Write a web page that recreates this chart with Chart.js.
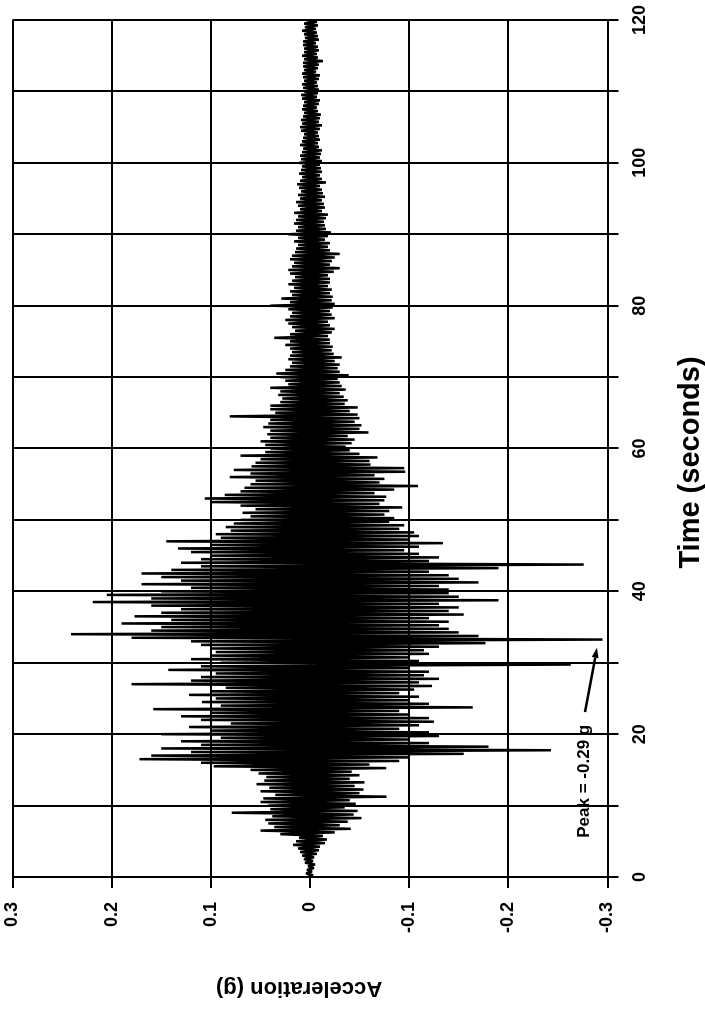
<!DOCTYPE html>
<html><head><meta charset="utf-8">
<script src="https://cdn.jsdelivr.net/npm/chart.js@4.4.1/dist/chart.umd.min.js"></script>
<style>
html,body{margin:0;padding:0;background:#fff;overflow:hidden;width:705px;height:1009px;}
#wrap{position:absolute;left:0;top:0;width:1009px;height:705px;transform-origin:0 0;transform:translate(0,1009px) rotate(-90deg);}
canvas{display:block;}
</style></head><body>
<div id="wrap"><canvas id="c" width="1009" height="705"></canvas></div>
<script>
// ---- data ----
const sampleStep = 0.25; // seconds between samples
const accelG = [
// 0-9 s
0.002,-0.003,0.004,-0.002,
0.003,-0.004,0.002,-0.005,
0.005,-0.003,0.006,-0.004,
0.008,-0.007,0.010,-0.009,
0.012,-0.010,0.017,-0.015,
0.014,-0.017,0.011,-0.013,
0.030,-0.025,0.050,-0.041,
0.036,-0.030,0.042,-0.038,
0.045,-0.052,0.038,-0.044,
0.079,-0.048,0.040,-0.035,
// 10-19 s
0.042,-0.046,0.050,-0.040,
0.047,-0.077,0.035,-0.050,
0.050,-0.054,0.041,-0.045,
0.054,-0.055,0.046,-0.040,
0.044,-0.050,0.052,-0.042,
0.060,-0.077,0.097,-0.060,
0.110,-0.090,0.172,-0.100,
0.160,-0.155,0.120,-0.243,
0.150,-0.180,0.110,-0.120,
0.130,-0.100,0.090,-0.130,
// 20-29 s
0.150,-0.120,0.100,-0.090,
0.122,-0.110,0.080,-0.125,
0.110,-0.120,0.130,-0.100,
0.100,-0.090,0.158,-0.164,
0.090,-0.120,0.109,-0.100,
0.095,-0.110,0.122,-0.090,
0.100,-0.105,0.085,-0.123,
0.180,-0.110,0.120,-0.130,
0.110,-0.115,0.095,-0.120,
0.143,-0.100,0.110,-0.263,
// 30-39 s
0.090,-0.110,0.120,-0.100,
0.100,-0.120,0.095,-0.115,
0.100,-0.130,0.110,-0.177,
0.120,-0.295,0.180,-0.170,
0.241,-0.150,0.160,-0.140,
0.150,-0.130,0.190,-0.140,
0.140,-0.120,0.177,-0.155,
0.150,-0.140,0.130,-0.150,
0.160,-0.130,0.219,-0.190,
0.160,-0.150,0.205,-0.140,
// 40-49 s
0.150,-0.140,0.120,-0.130,
0.170,-0.170,0.130,-0.150,
0.150,-0.140,0.170,-0.120,
0.140,-0.190,0.110,-0.276,
0.130,-0.120,0.110,-0.130,
0.100,-0.110,0.120,-0.095,
0.133,-0.110,0.100,-0.134,
0.145,-0.100,0.090,-0.110,
0.095,-0.105,0.080,-0.090,
0.085,-0.095,0.077,-0.080,
// 50-59 s
0.070,-0.085,0.060,-0.075,
0.068,-0.080,0.055,-0.093,
0.070,-0.070,0.100,-0.075,
0.106,-0.077,0.086,-0.065,
0.070,-0.085,0.066,-0.109,
0.060,-0.070,0.055,-0.075,
0.081,-0.065,0.060,-0.096,
0.077,-0.095,0.059,-0.061,
0.055,-0.060,0.050,-0.068,
0.070,-0.050,0.045,-0.040,
// 60-69 s
0.040,-0.036,0.045,-0.042,
0.050,-0.045,0.040,-0.038,
0.043,-0.059,0.040,-0.050,
0.047,-0.052,0.042,-0.045,
0.040,-0.050,0.081,-0.048,
0.035,-0.040,0.040,-0.048,
0.040,-0.035,0.030,-0.038,
0.028,-0.034,0.032,-0.030,
0.030,-0.036,0.040,-0.032,
0.022,-0.030,0.025,-0.028,
// 70-79 s
0.030,-0.039,0.034,-0.030,
0.025,-0.028,0.020,-0.030,
0.018,-0.025,0.022,-0.032,
0.020,-0.024,0.018,-0.022,
0.020,-0.023,0.025,-0.020,
0.020,-0.020,0.036,-0.018,
0.020,-0.022,0.015,-0.025,
0.018,-0.020,0.022,-0.018,
0.025,-0.025,0.020,-0.022,
0.018,-0.020,0.022,-0.023,
// 80-89 s
0.040,-0.025,0.020,-0.022,
0.029,-0.023,0.018,-0.020,
0.020,-0.022,0.016,-0.018,
0.022,-0.020,0.018,-0.020,
0.015,-0.018,0.020,-0.024,
0.022,-0.030,0.018,-0.020,
0.016,-0.022,0.020,-0.025,
0.018,-0.030,0.015,-0.020,
0.014,-0.018,0.012,-0.020,
0.016,-0.015,0.012,-0.018,
// 90-99 s
0.022,-0.021,0.014,-0.016,
0.012,-0.015,0.016,-0.014,
0.014,-0.016,0.012,-0.018,
0.016,-0.012,0.010,-0.015,
0.012,-0.014,0.014,-0.012,
0.010,-0.015,0.012,-0.013,
0.009,-0.012,0.011,-0.010,
0.013,-0.016,0.010,-0.012,
0.008,-0.010,0.011,-0.012,
0.009,-0.011,0.008,-0.010,
// 100-109 s
0.011,-0.012,0.009,-0.010,
0.010,-0.011,0.008,-0.012,
0.007,-0.009,0.010,-0.008,
0.008,-0.010,0.007,-0.009,
0.006,-0.008,0.009,-0.010,
0.010,-0.012,0.008,-0.009,
0.009,-0.010,0.007,-0.011,
0.006,-0.008,0.008,-0.007,
0.007,-0.009,0.006,-0.010,
0.008,-0.007,0.009,-0.008,
// 110-120 s
0.006,-0.009,0.007,-0.008,
0.008,-0.007,0.006,-0.009,
0.007,-0.010,0.008,-0.006,
0.006,-0.008,0.007,-0.009,
0.007,-0.013,0.006,-0.008,
0.008,-0.007,0.006,-0.009,
0.006,-0.008,0.007,-0.006,
0.007,-0.009,0.005,-0.008,
0.006,-0.007,0.008,-0.006,
0.005,-0.008,0.006,-0.007,
0.004
];
const timeTicks = [0,10,20,30,40,50,60,70,80,90,100,110,120];
const timeTickLabels = ['0','','20','','40','','60','','80','','100','','120'];
const accelTicks = [-0.3,-0.2,-0.1,0,0.1,0.2,0.3];
const accelTickLabels = ['-0.3','-0.2','-0.1','0','0.1','0.2','0.3'];
const timeTitle = 'Time (seconds)';
const accelTitle = 'Acceleration (g)';
const peakText = 'Peak = -0.29 g';
const peakTextAt = {t: 5.5, g: -0.2813};
const arrowFrom = {t: 23.1, g: -0.2773};
const arrowTo = {t: 32.1, g: -0.2894};

// ---- chart ----
const FAMILY = '"Liberation Sans", Arial, Helvetica, sans-serif';
const points = accelG.map((g, i) => ({x: i * sampleStep, y: g}));
const titleShift = {x: {dx: -14, dy: 0}, y: {dx: 0, dy: -11}};

const zeroPad = s => { s.paddingLeft = 0; s.paddingRight = 0; s.paddingTop = 0; s.paddingBottom = 0; };

const titleShiftPlugin = {
  id: 'titleShift',
  beforeDraw(chart) {
    for (const id of Object.keys(titleShift)) {
      const s = chart.scales[id];
      if (!s || s._titleShifted) continue;
      const orig = s.drawTitle;
      const d = titleShift[id];
      s.drawTitle = function () {
        this.ctx.save(); this.ctx.translate(d.dx, d.dy);
        orig.call(this);
        this.ctx.restore();
      };
      s._titleShifted = true;
    }
  }
};

const peakPlugin = {
  id: 'peakNote',
  afterDatasetsDraw(chart) {
    const {ctx, scales: {x, y}} = chart;
    ctx.save();
    ctx.fillStyle = '#000';
    ctx.strokeStyle = '#000';
    ctx.font = 'bold 17px ' + FAMILY;
    ctx.textAlign = 'left';
    ctx.textBaseline = 'alphabetic';
    ctx.fillText(peakText, x.getPixelForValue(peakTextAt.t), y.getPixelForValue(peakTextAt.g));
    const x1 = x.getPixelForValue(arrowFrom.t), y1 = y.getPixelForValue(arrowFrom.g);
    const x2 = x.getPixelForValue(arrowTo.t), y2 = y.getPixelForValue(arrowTo.g);
    const ang = Math.atan2(y2 - y1, x2 - x1);
    const hl = 10, hw = 3.5;
    const bx = x2 - hl * Math.cos(ang), by = y2 - hl * Math.sin(ang);
    ctx.lineWidth = 2.5;
    ctx.beginPath(); ctx.moveTo(x1, y1); ctx.lineTo(bx, by); ctx.stroke();
    ctx.beginPath();
    ctx.moveTo(x2, y2);
    ctx.lineTo(bx - hw * Math.sin(ang), by + hw * Math.cos(ang));
    ctx.lineTo(bx + hw * Math.sin(ang), by - hw * Math.cos(ang));
    ctx.closePath(); ctx.fill();
    ctx.restore();
  }
};

new Chart(document.getElementById('c'), {
  type: 'line',
  data: {datasets: [{data: points, borderColor: '#000', borderWidth: 2.5, borderJoinStyle: 'bevel',
    pointRadius: 0, tension: 0, fill: false}]},
  options: {
    responsive: false, animation: false, devicePixelRatio: 1,
    parsing: false, normalized: true,
    plugins: {legend: {display: false}, tooltip: {enabled: false}, decimation: {enabled: false}},
    layout: {autoPadding: false, padding: {left: 0, right: 20, top: 12.5, bottom: 0}},
    scales: {
      x: {
        type: 'linear', min: 0, max: 120,
        afterBuildTicks: s => { s.ticks = timeTicks.map(v => ({value: v})); },
        afterFit: s => { s.height = 97.5; zeroPad(s); },
        ticks: {autoSkip: false, maxRotation: 0, color: '#000', padding: 11,
          font: {family: FAMILY, size: 18, weight: 'bold'},
          callback: (v, i) => timeTickLabels[i]},
        grid: {color: '#000', lineWidth: 2, tickLength: 11, tickColor: '#000'},
        border: {color: '#000', width: 2},
        title: {display: true, text: timeTitle, color: '#000',
          font: {family: FAMILY, size: 29, weight: 'bold', lineHeight: 1}, padding: {top: 0, bottom: 0}}
      },
      y: {
        type: 'linear', min: -0.3, max: 0.3,
        afterBuildTicks: s => { s.ticks = accelTicks.map(v => ({value: v})); },
        afterFit: s => { s.width = 132; zeroPad(s); },
        ticks: {autoSkip: false, color: '#000', padding: 14,
          font: {family: FAMILY, size: 18, weight: 'bold'},
          callback: (v, i) => accelTickLabels[i]},
        grid: {color: '#000', lineWidth: 2, tickLength: 11, tickColor: '#000'},
        border: {color: '#000', width: 2},
        title: {display: true, text: accelTitle, color: '#000',
          font: {family: FAMILY, size: 22, weight: 'bold'}, padding: {top: 8, bottom: 0}}
      }
    }
  },
  plugins: [titleShiftPlugin, peakPlugin]
});
</script>
</body></html>
